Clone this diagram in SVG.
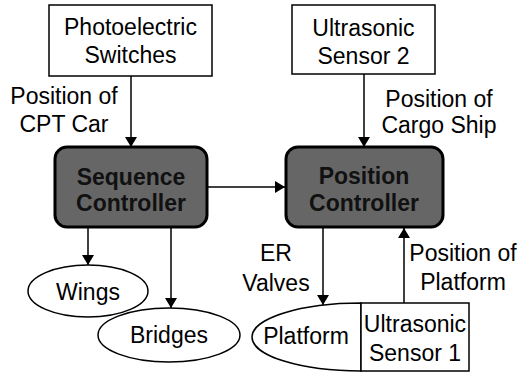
<svg xmlns="http://www.w3.org/2000/svg" width="521" height="374" viewBox="0 0 521 374">
<style>
.box{fill:#fff;stroke:#000;stroke-width:1.5}
.dark{fill:#666;stroke:#000;stroke-width:3}
.t{font-family:"Liberation Sans",Arial,sans-serif;font-size:23px;fill:#000;text-anchor:middle}
.dt{font-family:"Liberation Sans",Arial,sans-serif;font-size:23px;font-weight:bold;fill:#111;text-anchor:middle}
.c{stroke:#000;stroke-width:1.5;fill:none;marker-end:url(#ah)}
</style>
<defs>
<marker id="ah" markerWidth="10" markerHeight="12" refX="10" refY="6" orient="auto" markerUnits="userSpaceOnUse">
<path d="M0,0 L10,6 L0,12 Z" fill="#000"/>
</marker>
</defs>
<rect width="521" height="374" fill="#fff"/>
<g id="connectors">
<line class="c" x1="131" y1="76" x2="131" y2="147"/>
<line class="c" x1="364" y1="74" x2="364" y2="147"/>
<line class="c" x1="207" y1="187" x2="285" y2="187"/>
<line class="c" x1="88" y1="228" x2="88" y2="265"/>
<line class="c" x1="171" y1="228" x2="171" y2="308"/>
<line class="c" x1="323" y1="227" x2="323" y2="305"/>
<line class="c" x1="404" y1="303" x2="404" y2="228"/>
</g>
<g id="photoelectric">
<rect class="box" x="49" y="5" width="163" height="71"/>
<text class="t" x="130.5" y="35">Photoelectric</text>
<text class="t" x="130.5" y="63">Switches</text>
</g>
<g id="ultrasonic2">
<rect class="box" x="292" y="5" width="143" height="69"/>
<text class="t" x="363.5" y="36">Ultrasonic</text>
<text class="t" x="363.5" y="64">Sensor 2</text>
</g>
<g id="label-cpt">
<text class="t" x="64" y="104">Position of</text>
<text class="t" x="64" y="132">CPT Car</text>
</g>
<g id="label-cargo">
<text class="t" x="439" y="107">Position of</text>
<text class="t" x="439" y="133">Cargo Ship</text>
</g>
<g id="sequence">
<rect class="dark" x="55" y="147" width="152" height="80" rx="12"/>
<text class="dt" x="131" y="185">Sequence</text>
<text class="dt" x="131" y="211">Controller</text>
</g>
<g id="position">
<rect class="dark" x="286" y="147" width="157" height="80" rx="12"/>
<text class="dt" x="364" y="184">Position</text>
<text class="dt" x="364" y="211">Controller</text>
</g>
<g id="bridges">
<ellipse class="box" cx="169" cy="335" rx="71" ry="27"/>
<text class="t" x="169" y="343">Bridges</text>
</g>
<g id="wings">
<ellipse class="box" cx="88" cy="291" rx="60" ry="26"/>
<text class="t" x="88" y="300">Wings</text>
</g>
<g id="label-er">
<text class="t" x="276" y="261">ER</text>
<text class="t" x="276" y="291">Valves</text>
</g>
<g id="label-platform">
<text class="t" x="463" y="261">Position of</text>
<text class="t" x="463" y="290">Platform</text>
</g>
<g id="platform">
<path class="box" d="M361,303 A109,34 0 0 0 361,371 Z"/>
<text class="t" x="306" y="344">Platform</text>
</g>
<g id="ultrasonic1">
<rect class="box" x="361" y="303" width="108" height="68"/>
<text class="t" x="415" y="332">Ultrasonic</text>
<text class="t" x="415" y="361">Sensor 1</text>
</g>
</svg>
